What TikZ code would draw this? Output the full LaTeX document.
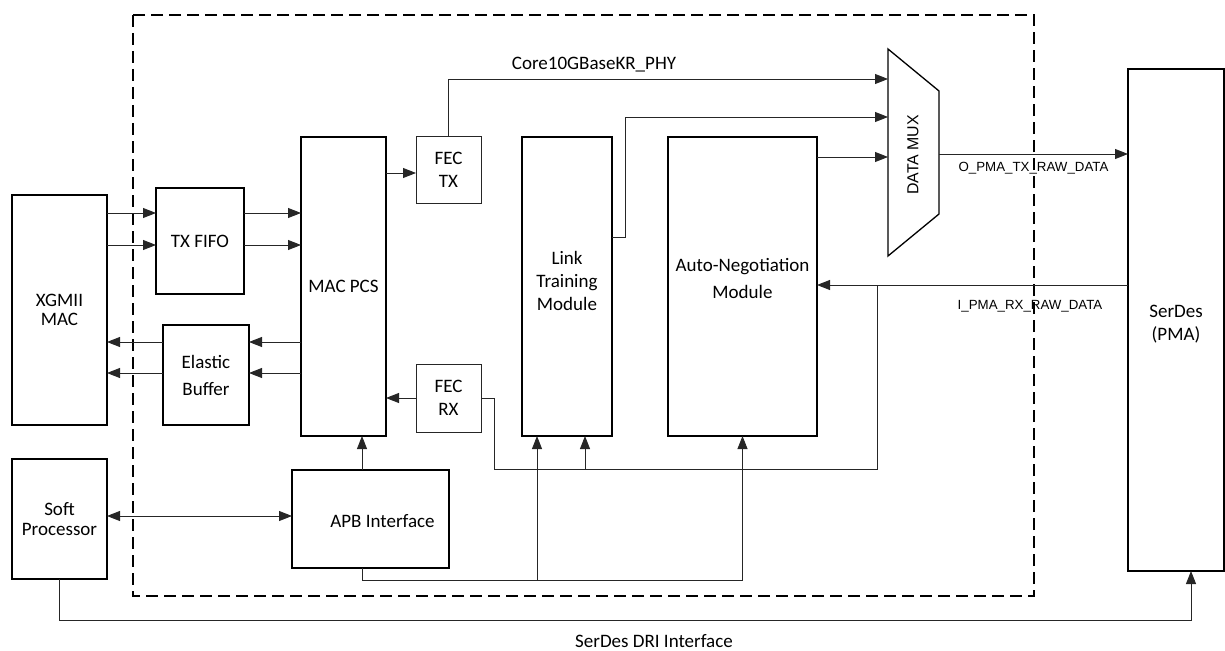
\documentclass[tikz,border=0pt]{standalone}
\usepackage{fontspec}
\setmainfont{Carlito}
\newfontfamily\arialfont{Liberation Sans}
\usetikzlibrary{arrows.meta}
\tikzset{
>={Triangle[length=13pt,width=10pt]}, % filled tips everywhere
block/.style={draw=black,line width=1.3pt,inner sep=0pt,outer sep=0pt,align=center,
  font=\fontsize{19}{23}\selectfont},
small block/.style={block,line width=0.8pt,draw=black!85},
wire/.style={line width=0.9pt,draw=black!85},
core/.style={line width=1.3pt,dash pattern=on 12pt off 6pt},
plain/.style={inner sep=0pt,align=center,font=\fontsize{19}{23}\selectfont},
sig/.style={inner sep=0pt,font=\arialfont\fontsize{13.3}{15}\selectfont},
}
\begin{document}
\begin{tikzpicture}[x=1pt,y=-1pt]
\useasboundingbox (0,0) rectangle (1225,650);

% PHY core boundary
\draw[core] (133,15) rectangle (1034,596);
\node[plain] (corename) at (594,65) {Core10GBaseKR\_PHY};

% outside blocks
\node[block,minimum width=95pt,minimum height=230pt] (xgmii) at (59.5,310) {XGMII\\[-4pt]MAC};
\node[block,minimum width=95pt,minimum height=120pt] (soft) at (59.5,519) {Soft\\[-3pt]Processor};
\node[block,minimum width=96pt,minimum height=502pt,
  label={[plain,yshift=-4pt]center:SerDes\\(PMA)}] (serdes) at (1176,320) {};

% core blocks
\node[block,minimum width=88pt,minimum height=106pt] (txfifo) at (200,241) {TX FIFO};
\node[block,minimum width=86pt,minimum height=100pt] (elastic) at (206,375) {Elastic\\[4pt]Buffer};
\node[block,minimum width=85pt,minimum height=299pt] (macpcs) at (343.5,286.5) {MAC PCS};
\node[small block,minimum width=65pt,minimum height=67pt] (fectx) at (448.5,169.5) {FEC\\TX};
\node[small block,minimum width=65pt,minimum height=68pt] (fecrx) at (448.5,398) {FEC\\RX};
\node[block,minimum width=90pt,minimum height=299pt,
  label={[plain,yshift=6pt]center:Link\\Training\\Module}] (link) at (567,286.5) {};
\node[block,minimum width=149pt,minimum height=299pt,
  label={[plain,yshift=8pt]center:Auto-Negotiation\\[4pt]Module}] (autoneg) at (742.5,286.5) {};
\node[block,minimum width=157pt,minimum height=98pt,
  label={[plain,xshift=12pt,yshift=-2pt]center:APB Interface}] (apb) at (370.5,519) {};

% data mux
\draw[line width=1.3pt] (888,49) -- (939,91) -- (939,214) -- (888,256) -- cycle;
\node[sig,font=\arialfont\fontsize{15.9}{18}\selectfont,rotate=90] (muxname) at (913,155) {DATA MUX};
\coordinate (mux in1) at (888,79);
\coordinate (mux in2) at (888,117);
\coordinate (mux in3) at (888,157);
\coordinate (mux out) at (939,154);

% XGMII side
\foreach \y in {213,245} {
  \draw[wire,->] (xgmii.east |- 0,\y) -- (txfifo.west |- 0,\y);
  \draw[wire,->] (txfifo.east |- 0,\y) -- (macpcs.west |- 0,\y);
}
\foreach \y in {342,373} {
  \draw[wire,->] (macpcs.west |- 0,\y) -- (elastic.east |- 0,\y);
  \draw[wire,->] (elastic.west |- 0,\y) -- (xgmii.east |- 0,\y);
}

% transmit path into the mux
\draw[wire,->] (macpcs.east |- 0,173) -- (fectx.west |- 0,173);
\draw[wire,->] (fectx.north) |- (mux in1);
\draw[wire,->] (link.east |- 0,237) -| (625,117) -- (mux in2);
\draw[wire,->] (autoneg.east |- mux in3) -- (mux in3);
\draw[wire,->] (mux out) -- (serdes.west |- mux out)
  node[sig,midway,below=8pt] (txlabel) {O\_PMA\_TX\_RAW\_DATA};

% receive path
\coordinate (rx tap) at (877,285);
\coordinate (rx bus) at (585,469);
\draw[wire,->] (serdes.west |- rx tap) -- (autoneg.east |- rx tap)
  node[sig,pos=0.315,below=15pt] (rxlabel) {I\_PMA\_RX\_RAW\_DATA};
\draw[wire] (rx tap) |- (494,469) |- (fecrx.east);
\draw[wire,->] (rx bus) -- (link.south -| rx bus);
\draw[wire,->] (fecrx.west) -- (macpcs.east |- fecrx.west);

% APB register bus
\coordinate (apb bus) at (537,580);
\draw[wire,->] (apb.north -| 362,0) -- (macpcs.south -| 362,0);
\draw[wire,->] (apb.south -| 362,0) |- (autoneg.south |- apb bus) -- (autoneg.south);
\draw[wire,->] (apb bus) -- (link.south -| apb bus);
\draw[wire,<->] (soft.east |- 0,516) -- (apb.west |- 0,516);

% DRI to the SerDes
\draw[wire,->] (soft.south) |- (1191,620) -- (serdes.south -| 1191,0);
\node[plain] (driname) at (654,641) {SerDes DRI Interface};
\end{tikzpicture}
\end{document}
